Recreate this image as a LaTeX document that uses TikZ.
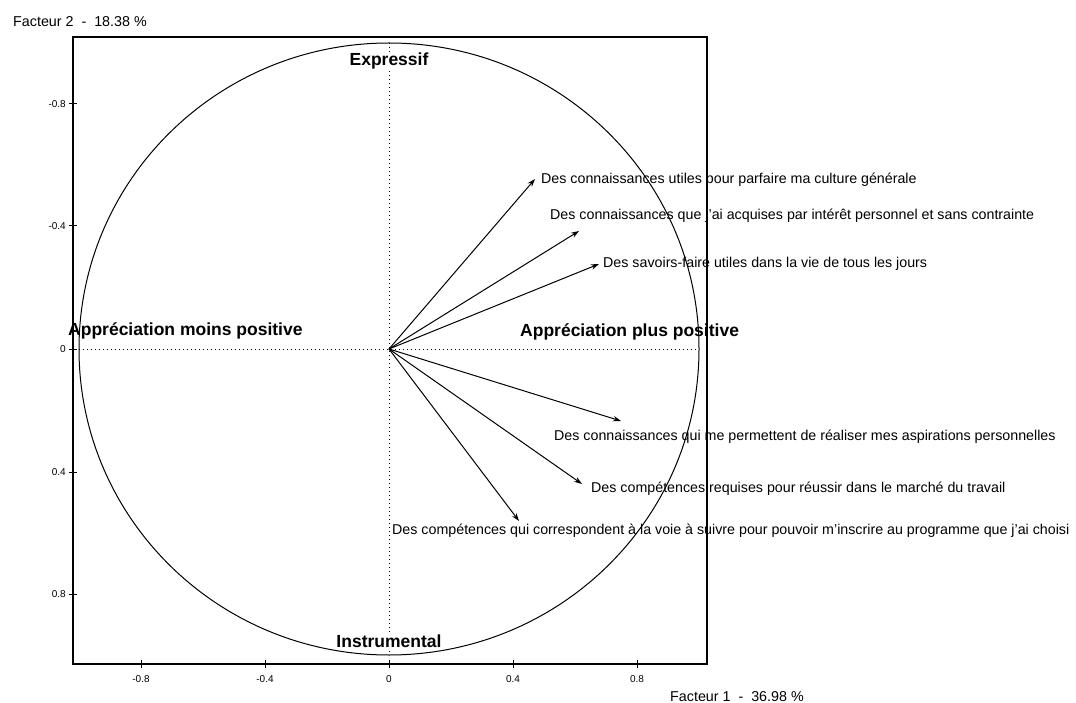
\documentclass[tikz,border=0pt]{standalone}
\usepackage{fontspec}
\setmainfont{Liberation Sans}
\usetikzlibrary{arrows.meta}
\tikzset{
  lbl/.style={font=\fontsize{14.25}{16}\selectfont, inner sep=0pt, anchor=west},
  biglbl/.style={font=\bfseries\fontsize{17.5}{20}\selectfont, inner sep=0pt},
  ticklbl/.style={font=\fontsize{10}{12}\selectfont, inner sep=0pt},
  axtitle/.style={font=\fontsize{14.3}{16}\selectfont, inner sep=0pt, anchor=west},
  vec/.style={-{Stealth[length=8pt,width=5.5pt]}, line width=1pt},
  axdot/.style={line width=1pt, dash pattern=on 1.3pt off 2.7pt},
  framest/.style={line width=1.5pt},
  tickst/.style={line width=1pt}
}
\begin{document}
\begin{tikzpicture}[x=1pt,y=-1pt]
\useasboundingbox (0,0) rectangle (1076,703);
% frame
\draw[framest] (73,37) rectangle (707,664);
% ticks on left axis
\foreach \yy in {104,226,349,472,594} \draw[tickst] (69,\yy) -- (77,\yy);
% ticks on bottom axis
\foreach \xx in {141,265,389,513,637} \draw[tickst] (\xx,660) -- (\xx,668);
% tick labels
\node[ticklbl, anchor=east] (ym8) at (66,104) {-0.8};
\node[ticklbl, anchor=east] (ym4) at (66,226) {-0.4};
\node[ticklbl, anchor=east] (y0) at (66,349) {0};
\node[ticklbl, anchor=east] (yp4) at (66,472) {0.4};
\node[ticklbl, anchor=east] (yp8) at (66,594) {0.8};
\node[ticklbl] (xm8) at (141,679) {-0.8};
\node[ticklbl] (xm4) at (265,679) {-0.4};
\node[ticklbl] (x0) at (389,679) {0};
\node[ticklbl] (xp4) at (513,679) {0.4};
\node[ticklbl] (xp8) at (637,679) {0.8};
% axis titles
\node[axtitle] (f2) at (13,22) {Facteur 2 \ - \ 18.38 \%};
\node[axtitle] (f1) at (670,697) {Facteur 1 \ - \ 36.98 \%};
% correlation circle
\coordinate (O) at (389,349);
\draw[line width=1pt] (O) ellipse [x radius=310, y radius=306];
% dotted axes
\coordinate (axL) at (79,349);
\coordinate (axR) at (699,349);
\coordinate (axT) at (389,43);
\coordinate (axB) at (389,655);
\draw[axdot] (axL) -- (axR);
\draw[axdot] (axT) -- (axB);
% pole labels
\node[biglbl, fill=white, inner sep=1pt] (expr) at (389,61) {Expressif};
\node[biglbl, fill=white, inner sep=1pt] (instr) at (389,641) {Instrumental};
\node[biglbl, anchor=west] (moins) at (68,331) {Appréciation moins positive};
\node[biglbl, anchor=west] (plus) at (520,332) {Appréciation plus positive};
% vector tips
\coordinate (t1) at (535,179);
\coordinate (t2) at (579,231);
\coordinate (t3) at (599,264);
\coordinate (t4) at (621,421);
\coordinate (t5) at (582,484);
\coordinate (t6) at (519,521);
\draw[vec] (O) -- (t1);
\draw[vec] (O) -- (t2);
\draw[vec] (O) -- (t3);
\draw[vec] (O) -- (t4);
\draw[vec] (O) -- (t5);
\draw[vec] (O) -- (t6);
% vector labels
\node[lbl] (l1) at (541,180) {Des connaissances utiles pour parfaire ma culture générale};
\node[lbl] (l2) at (550,216) {Des connaissances que j'ai acquises par intérêt personnel et sans contrainte};
\node[lbl] (l3) at (603,264) {Des savoirs-faire utiles dans la vie de tous les jours};
\node[lbl] (l4) at (554,437) {Des connaissances qui me permettent de réaliser mes aspirations personnelles};
\node[lbl] (l5) at (591,489) {Des compétences requises pour réussir dans le marché du travail};
\node[lbl] (l6) at (392,531) {Des compétences qui correspondent à la voie à suivre pour pouvoir m'inscrire au programme que j'ai choisi};
\end{tikzpicture}
\end{document}
